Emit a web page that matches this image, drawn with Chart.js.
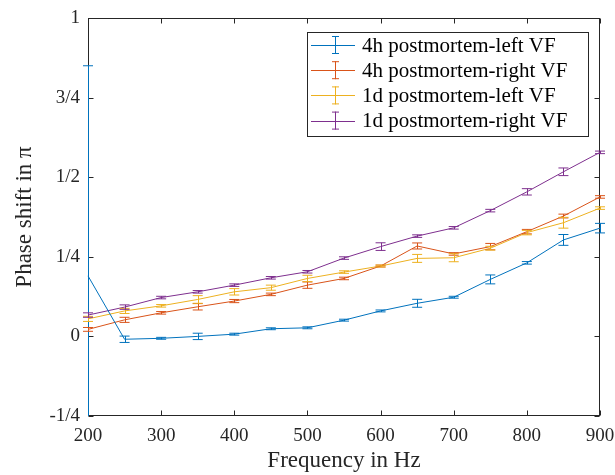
<!DOCTYPE html>
<html>
<head>
<meta charset="utf-8">
<script src="https://cdn.jsdelivr.net/npm/chart.js@4/dist/chart.umd.min.js"></script>
<style>
  html, body { margin: 0; padding: 0; background: #fff; }
  canvas { display: block; }
</style>
</head>
<body>
<canvas id="c" width="615" height="475"></canvas>
<script>
// ---- data ----
const freqs = [200, 250, 300, 350, 400, 450, 500, 550, 600, 650, 700, 750, 800, 850, 900];

const labels = ["4h postmortem-left VF", "4h postmortem-right VF", "1d postmortem-left VF", "1d postmortem-right VF"];

const left4h  = [0.19, -0.009, -0.006, 0.0, 0.007, 0.024, 0.027, 0.051, 0.08, 0.104, 0.123, 0.179, 0.231, 0.303, 0.34];
const left4hErr = [0.66, 0.01, 0.003, 0.01, 0.003, 0.003, 0.003, 0.003, 0.003, 0.0125, 0.003, 0.014, 0.004, 0.017, 0.015];

const right4h = [0.022, 0.052, 0.074, 0.093, 0.111, 0.132, 0.161, 0.182, 0.221, 0.284, 0.259, 0.282, 0.329, 0.378, 0.438];
const right4hErr = [0.006, 0.008, 0.004, 0.01, 0.005, 0.004, 0.01, 0.004, 0.003, 0.0095, 0.004, 0.01, 0.007, 0.006, 0.004];

const left1d  = [0.055, 0.08, 0.096, 0.116, 0.14, 0.153, 0.182, 0.202, 0.221, 0.245, 0.247, 0.277, 0.326, 0.357, 0.403];
const left1dErr = [0.008, 0.008, 0.004, 0.012, 0.01, 0.008, 0.01, 0.004, 0.003, 0.0125, 0.0125, 0.006, 0.007, 0.017, 0.004];

const right1d = [0.067, 0.092, 0.122, 0.14, 0.161, 0.184, 0.203, 0.246, 0.282, 0.315, 0.341, 0.395, 0.454, 0.517, 0.578];
const right1dErr = [0.007, 0.007, 0.004, 0.004, 0.004, 0.004, 0.004, 0.004, 0.012, 0.004, 0.004, 0.004, 0.01, 0.012, 0.004];

const xTickValues = [200, 300, 400, 500, 600, 700, 800, 900];
const yTickValues = [-0.25, 0, 0.25, 0.5, 0.75, 1];
const yTickLabels = ["-1/4", "0", "1/4", "1/2", "3/4", "1"];

const colors = ["#0072BD", "#D95319", "#EDB120", "#7E2F8E"];
const seriesVals = [left4h, right4h, left1d, right1d];
const seriesErrs = [left4hErr, right4hErr, left1dErr, right1dErr];

const FONT = "'Liberation Serif', 'Times New Roman', serif";
const AXIS = "#262626";

const datasets = seriesVals.map((vals, i) => ({
  label: labels[i],
  data: freqs.map((f, j) => ({ x: f, y: vals[j] })),
  errors: seriesErrs[i],
  borderColor: colors[i],
  backgroundColor: colors[i],
  borderWidth: 1,
  pointRadius: 0,
  tension: 0,
  fill: false,
  clip: 8
}));

const boxPlugin = {
  id: 'box',
  beforeDatasetsDraw(chart) {
    const { ctx, chartArea: a, scales: { x, y } } = chart;
    ctx.save();
    ctx.strokeStyle = AXIS;
    ctx.lineWidth = 1;
    const L = Math.round(a.left) + 0.5, R = Math.round(a.right) - 0.5;
    const T = Math.round(a.top) + 0.5, B = Math.round(a.bottom) - 0.5;
    ctx.strokeRect(L, T, R - L, B - T);
    const tl = 5;
    ctx.beginPath();
    xTickValues.forEach(v => {
      const px = Math.round(x.getPixelForValue(v)) + 0.5;
      ctx.moveTo(px, B); ctx.lineTo(px, B - tl);
      ctx.moveTo(px, T); ctx.lineTo(px, T + tl);
    });
    yTickValues.forEach(v => {
      const py = Math.round(y.getPixelForValue(v)) + 0.5;
      ctx.moveTo(L, py); ctx.lineTo(L + tl, py);
      ctx.moveTo(R, py); ctx.lineTo(R - tl, py);
    });
    ctx.stroke();
    ctx.restore();
  }
};

const errorBarPlugin = {
  id: 'errbars',
  afterDatasetsDraw(chart) {
    const { ctx, chartArea: a, scales: { x, y } } = chart;
    ctx.save();
    ctx.beginPath();
    ctx.rect(a.left - 8, a.top - 8, a.right - a.left + 16, a.bottom - a.top + 8);
    ctx.clip();
    chart.data.datasets.forEach(ds => {
      ctx.strokeStyle = ds.borderColor;
      ctx.lineWidth = 1;
      ctx.beginPath();
      ds.data.forEach((p, j) => {
        const e = ds.errors[j];
        const px = x.getPixelForValue(p.x);
        const y1 = y.getPixelForValue(p.y + e);
        const y2 = y.getPixelForValue(p.y - e);
        const cx = Math.round(px) + 0.5;
        ctx.moveTo(cx, y1); ctx.lineTo(cx, y2);
        ctx.moveTo(px - 5, y1); ctx.lineTo(px + 5, y1);
        ctx.moveTo(px - 5, y2); ctx.lineTo(px + 5, y2);
      });
      ctx.stroke();
    });
    ctx.restore();
  }
};

const legendPlugin = {
  id: 'customLegend',
  afterDraw(chart) {
    const { ctx } = chart;
    const bx = 307, by = 32, bw = 281, bh = 104;
    ctx.save();
    ctx.fillStyle = '#fff';
    ctx.fillRect(bx, by, bw, bh);
    ctx.strokeStyle = AXIS;
    ctx.lineWidth = 1;
    ctx.strokeRect(bx + 0.5, by + 0.5, bw, bh);
    ctx.font = "21px " + FONT;
    ctx.textBaseline = 'middle';
    ctx.textAlign = 'left';
    chart.data.datasets.forEach((ds, i) => {
      const ry = 45 + i * 25.2;
      ctx.strokeStyle = ds.borderColor;
      ctx.beginPath();
      ctx.moveTo(311, Math.round(ry) + 0.5); ctx.lineTo(355, Math.round(ry) + 0.5);
      ctx.moveTo(335.5, ry - 9); ctx.lineTo(335.5, ry + 9);
      ctx.moveTo(332, ry - 9 + 0.5); ctx.lineTo(339, ry - 9 + 0.5);
      ctx.moveTo(332, ry + 9 - 0.5); ctx.lineTo(339, ry + 9 - 0.5);
      ctx.stroke();
      ctx.fillStyle = '#000';
      ctx.fillText(ds.label, 362, ry + 1);
    });
    ctx.restore();
  }
};

new Chart(document.getElementById('c'), {
  type: 'line',
  data: { datasets },
  options: {
    responsive: false,
    devicePixelRatio: 1,
    animation: false,
    layout: { padding: { top: 18, right: 15, left: 0, bottom: 0 } },
    plugins: {
      legend: { display: false },
      tooltip: { enabled: false }
    },
    scales: {
      x: {
        type: 'linear',
        min: 200, max: 900,
        afterBuildTicks: s => { s.ticks = xTickValues.map(v => ({ value: v })); },
        afterFit: s => { s.height = 59; s.paddingLeft = 0; s.paddingRight = 0; },
        grid: { display: false, drawTicks: false },
        border: { display: false },
        ticks: { padding: 9, color: AXIS, font: { family: FONT, size: 19 }, maxRotation: 0 },
        title: { display: true, text: 'Frequency in Hz', color: AXIS, font: { family: FONT, size: 23 }, padding: { top: 0, bottom: 0 } }
      },
      y: {
        type: 'linear',
        min: -0.25, max: 1,
        afterBuildTicks: s => { s.ticks = yTickValues.map(v => ({ value: v })); },
        afterFit: s => { s.width = 88; s.paddingTop = 0; s.paddingBottom = 0; },
        grid: { display: false, drawTicks: false },
        border: { display: false },
        ticks: {
          padding: 8, color: AXIS, font: { family: FONT, size: 19 },
          callback: (v) => { const k = yTickValues.indexOf(v); return k >= 0 ? yTickLabels[k] : ''; }
        },
        title: { display: true, text: 'Phase shift in π', color: AXIS, font: { family: FONT, size: 23 }, padding: { top: 11, bottom: 0 } }
      }
    }
  },
  plugins: [boxPlugin, errorBarPlugin, legendPlugin]
});
</script>
</body>
</html>
